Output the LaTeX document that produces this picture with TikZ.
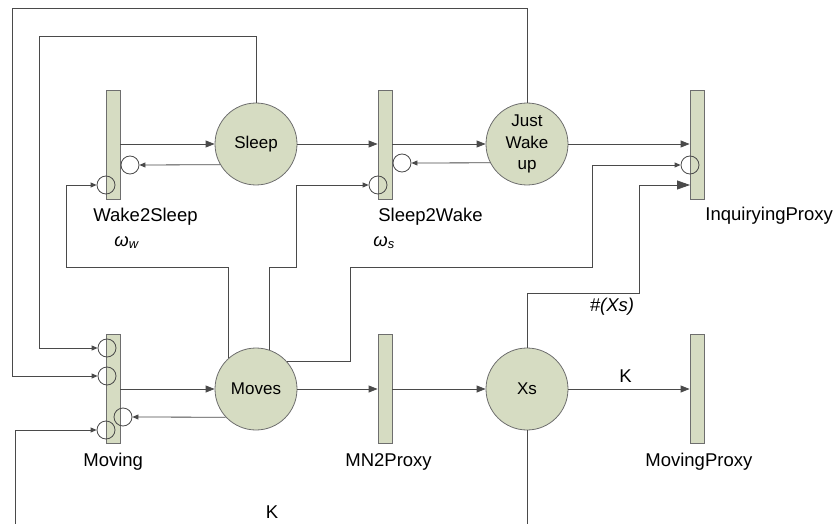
\documentclass[tikz,border=0pt]{standalone}
\usepackage{fontspec}
\setmainfont{Liberation Sans}
\usetikzlibrary{arrows.meta}
\definecolor{pn}{HTML}{D6DCC2}
\definecolor{ln}{HTML}{4A4A4A}
\definecolor{bd}{HTML}{6E6E6E}
\begin{document}
\begin{tikzpicture}[x=1pt,y=-1pt,
 line width=0.8pt,
 place/.style={circle,draw=bd,fill=pn,minimum size=82pt,inner sep=0pt,font=\fontsize{17}{21.5}\selectfont,align=center},
 trans/.style={rectangle,draw=bd,fill=pn,minimum width=14pt,minimum height=109pt,inner sep=0pt},
 inh/.style={circle,draw=ln,minimum size=18pt,inner sep=0pt},
 conn/.style={draw=ln},
 arr/.style={conn,-{Triangle[length=9pt,width=7pt]}},
 sarr/.style={conn,-{Triangle[length=6pt,width=5pt]}},
 barr/.style={conn,-{Triangle[length=13pt,width=9pt]}},
 lbl/.style={inner sep=0pt,font=\fontsize{18.5}{20}\selectfont},
]
\useasboundingbox (0,0) rectangle (833,524);
% transitions
\node[trans] (w2s) at (113,144.5) {};
\node[trans] (s2w) at (385,144.5) {};
\node[trans] (iq) at (697,144.5) {};
\node[trans] (mov) at (113,389) {};
\node[trans] (mn2) at (385,389) {};
\node[trans] (mp) at (697,389) {};
% places
\node[place] (sleep) at (256,144) {Sleep};
\node[place] (jw) at (527,144) {Just\\Wake\\up};
\node[place] (moves) at (256,389) {Moves};
\node[place] (xs) at (527,389) {Xs};
% inhibitor/input circles
\node[inh] (w2si) at (106,185) {};
\node[inh] (w2sr) at (130,165) {};
\node[inh] (s2wi) at (378,185) {};
\node[inh] (s2wr) at (402,163) {};
\node[inh] (iqi) at (690,165) {};
\node[inh] (m1) at (107,348) {};
\node[inh] (m2) at (107,376) {};
\node[inh] (mr) at (123,417) {};
\node[inh] (m4) at (106,430) {};
\coordinate (iq3) at (690,185);
\coordinate (kin) at (15,524);
\coordinate (xsout) at (527,524);
% short arcs
\draw[arr] (w2s.east |- sleep) -- (sleep.west);
\draw[sarr] (sleep.210.8) -- (w2sr.east);
\draw[arr] (sleep.east) -- (sleep.east -| s2w.west);
\draw[arr] (s2w.east |- jw) -- (jw.west);
\draw[sarr] (jw.207.6) -- (s2wr.east);
\draw[arr] (jw.east) -- (jw.east -| iq.west);
\draw[arr] (mov.east |- moves) -- (moves.west);
\draw[sarr] (moves.223.1) -- (mr.east);
\draw[arr] (moves.east) -- (mn2.west);
\draw[arr] (mn2.east) -- (xs.west);
\draw[arr] (xs.east) -- (mp.west);
% long arcs
\draw[sarr] (sleep.north) |- (39,36) |- (m1.west);
\draw[sarr] (jw.north) |- (12,8) |- (m2.west);
\draw[sarr] (moves.131) |- (66,267) |- (w2si.west);
\draw[sarr] (moves.71.6) |- (296,267) |- (s2wi.west);
\draw[sarr] (moves.41) -| (350,267) -| (592,165) -- (iqi.west);
\draw[barr] (xs.north) |- (639,293) |- (iq3);
\draw[sarr] (kin) |- (m4.west);
\draw[conn] (xs.south) -- (xsout);
% labels
\node[lbl,anchor=base west] (lw2s) at (93,221) {Wake2Sleep};
\node[lbl,anchor=base west] (ls2w) at (378,221) {Sleep2Wake};
\node[lbl,anchor=base west] (liq) at (705,220) {InquiryingProxy};
\node[lbl,anchor=base west] (lmov) at (83,466) {Moving};
\node[lbl,anchor=base west] (lmn2) at (345,466) {MN2Proxy};
\node[lbl,anchor=base west] (lmp) at (645,466) {MovingProxy};
\node[lbl,anchor=base west] (ww) at (114,246) {\itshape ω\textsubscript{w}};
\node[lbl,anchor=base west] (ws) at (373,246) {\itshape ω\textsubscript{s}};
\node[lbl,anchor=base] (kup) at (625.5,382) {K};
\node[lbl,anchor=base] (klow) at (272,518) {K};
\node[lbl,anchor=base] (xsl) at (612,311) {\itshape \#(Xs)};
\end{tikzpicture}
\end{document}
